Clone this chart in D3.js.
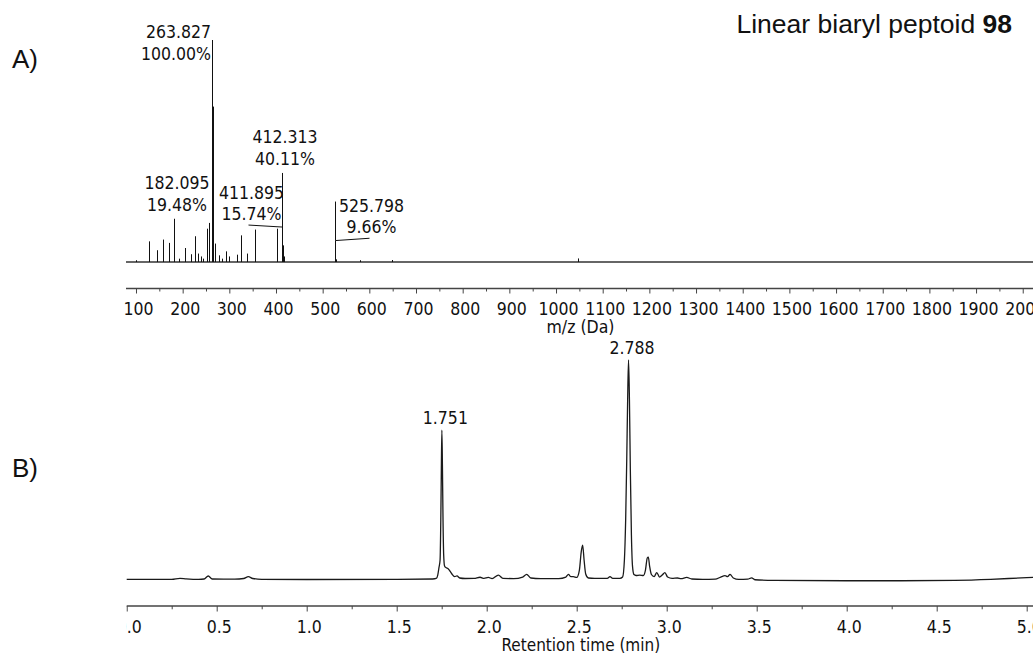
<!DOCTYPE html>
<html>
<head>
<meta charset="utf-8">
<script src="https://cdn.jsdelivr.net/npm/d3@7"></script>
<style>
  html, body { margin: 0; padding: 0; background: #fff; }
  svg { display: block; }
  .lbl { font-family: "DejaVu Sans Condensed", "DejaVu Sans", sans-serif; font-stretch: condensed; fill: #111; }
  .big { font-family: "Liberation Sans", Arial, sans-serif; fill: #111; }
</style>
</head>
<body>
<svg id="chart" width="1033" height="655"></svg>
<script>
// ---------------- DATA ----------------
// Panel A: mass spectrum sticks (m/z, relative intensity %)
const msMz  = [100.0, 128.5, 144.4, 157.2, 170.7, 182.095, 191.4, 205.6, 217.2, 225.8, 232.2, 239.3, 244.3,
               252.8, 255.8, 263.827, 264.8, 269.3, 277.2, 283.6, 292.9, 299.3, 315.8, 324.4, 337.2, 355.0,
               401.5, 411.895, 412.313, 415.6, 417.8, 525.798, 527.8, 580.0, 648.0, 1047.0];
const msPct = [0.8, 9.3, 5.3, 10.1, 8.6, 19.48, 1.5, 6.3, 3.5, 11.6, 3.8, 2.5, 1.5,
               15.0, 17.6, 100.0, 70.0, 8.3, 3.0, 1.5, 4.8, 2.5, 3.3, 12.0, 3.8, 14.6,
               15.0, 15.74, 40.11, 7.5, 2.5, 9.66, 1.2, 0.8, 0.9, 1.6];
// Annotated MS peaks
const msLabelMz  = [263.827, 182.095, 412.313, 411.895, 525.798];
const msLabelPct = [100.00, 19.48, 40.11, 15.74, 9.66];
const msTicks = [100, 200, 300, 400, 500, 600, 700, 800, 900, 1000, 1100, 1200, 1300, 1400, 1500, 1600, 1700, 1800, 1900, 2000];
const msMinorTicks = [150, 250, 350, 450, 550, 650, 750, 850, 950, 1050, 1150, 1250, 1350, 1450, 1550, 1650, 1750, 1850, 1950];

// Panel B: chromatogram (retention time min, signal)
const lcTime = [0.00, 0.25, 0.296, 0.33, 0.40, 0.43, 0.453, 0.475, 0.60, 0.65, 0.676, 0.70, 0.75, 1.00, 1.50, 1.70,
  1.720, 1.728, 1.735, 1.741, 1.745, 1.748, 1.751, 1.754, 1.757, 1.761, 1.766, 1.772, 1.787, 1.805, 1.822, 1.835,
  1.850, 1.880, 1.930, 1.963, 1.985, 2.009, 2.030, 2.065, 2.090, 2.150, 2.200, 2.222, 2.245, 2.300, 2.400, 2.440,
  2.454, 2.468, 2.481, 2.500, 2.515, 2.525, 2.533, 2.541, 2.550, 2.565, 2.600, 2.670, 2.685, 2.700, 2.740, 2.755,
  2.765, 2.772, 2.778, 2.783, 2.788, 2.793, 2.798, 2.804, 2.810, 2.818, 2.830, 2.850, 2.870, 2.882, 2.892, 2.898,
  2.905, 2.915, 2.930, 2.945, 2.960, 2.975, 2.990, 3.005, 3.030, 3.060, 3.080, 3.111, 3.140, 3.200, 3.270, 3.300,
  3.324, 3.338, 3.352, 3.370, 3.400, 3.450, 3.472, 3.490, 3.600, 4.000, 4.300, 4.600, 4.800, 5.000, 5.035];
const lcSignal = [-0.14, -0.14, 0.32, 0.10, -0.14, 0.0, 1.37, 0.0, -0.10, 0.23, 1.05, 0.23, -0.14, -0.23, -0.14, 0.0,
  0.23, 1.8, 5.3, 8.7, 26.9, 49.8, 68.0, 52.1, 29.2, 11.0, 5.9, 5.3, 4.6, 2.5, 1.1, 1.4,
  0.46, 0.23, 0.30, 0.80, 0.30, 0.70, 0.20, 1.8, 0.30, 0.20, 0.9, 2.1, 0.46, 0.20, 0.20, 0.9,
  2.1, 1.05, 1.05, 0.7, 4.1, 12.3, 15.5, 8.7, 2.3, 0.46, 0.30, 0.30, 1.05, 0.30, 0.30, 0.9,
  8.7, 26.9, 54.3, 81.7, 100.0, 81.7, 49.8, 20.1, 5.9, 2.05, 1.6, 1.8, 1.6, 4.1, 9.6, 10.0,
  5.9, 2.05, 1.1, 2.9, 0.9, 1.8, 2.9, 0.9, 0.30, 0.46, 0.20, 0.70, 0.0, -0.20, -0.10, 0.9,
  1.5, 1.1, 2.1, 0.46, -0.20, -0.10, 0.55, -0.35, -0.60, -0.80, -0.80, -0.60, -0.14, 0.60, 0.70];
const lcLabelTime = [1.751, 2.788];
const lcLabelSignal = [68.0, 100.0];
const lcTicks = [0.0, 0.5, 1.0, 1.5, 2.0, 2.5, 3.0, 3.5, 4.0, 4.5, 5.0];
const lcMinorTicks = [0.25, 0.75, 1.25, 1.75, 2.25, 2.75, 3.25, 3.75, 4.25, 4.75];

// ---------------- DRAW ----------------
const svg = d3.select("#chart");
const ink = "#111";
const fs = 17.5;

// Panel labels and title
svg.append("text").attr("class", "big").attr("x", 12).attr("y", 68).attr("font-size", 26).text("A)");
svg.append("text").attr("class", "big").attr("x", 12).attr("y", 477).attr("font-size", 26).text("B)");
const title = svg.append("text").attr("class", "big").attr("x", 1012).attr("y", 33)
  .attr("text-anchor", "end").attr("font-size", 26.5);
title.append("tspan").text("Linear biaryl peptoid ");
title.append("tspan").attr("font-weight", "bold").text("98");

// ---- Panel A ----
const xMs = d3.scaleLinear().domain([78.6, 2022]).range([126, 1033]);
const yMs = d3.scaleLinear().domain([0, 100]).range([262, 40]);
const msAxisY = 288.5;

// baseline (noise floor)
svg.append("line").attr("x1", xMs.range()[0]).attr("x2", xMs.range()[1])
  .attr("y1", yMs(0)).attr("y2", yMs(0)).attr("stroke", "#333").attr("stroke-width", 1.6);

svg.append("g").selectAll("line").data(msMz.map((m, i) => [m, msPct[i]])).join("line")
  .attr("x1", d => Math.round(xMs(d[0])) + 0.5).attr("x2", d => Math.round(xMs(d[0])) + 0.5)
  .attr("y1", yMs(0)).attr("y2", d => yMs(d[1]))
  .attr("stroke", ink).attr("stroke-width", 1);

// annotations
const lh = 21.5;
function twoLine(x, y1, anchor, a, b) {
  const t = svg.append("text").attr("class", "lbl").attr("font-size", fs).attr("text-anchor", anchor);
  t.append("tspan").attr("x", x).attr("y", y1).text(a);
  t.append("tspan").attr("x", x).attr("y", y1 + lh).text(b);
}
msLabelMz.forEach((m, i) => {
  const px = Math.round(xMs(m)) + 0.5, top = yMs(msLabelPct[i]);
  const a = m.toFixed(3), b = msLabelPct[i].toFixed(2) + "%";
  if (i === 0) {
    twoLine(px - 1.5, top - 2, "end", a, b);
  } else if (i === 1 || i === 2) {
    twoLine(px + 2.5, top - 8 - lh, "middle", a, b);
  } else if (i === 3) {
    twoLine(px - 31, top - 7 - lh, "middle", a, b);
    svg.append("line").attr("x1", px - 34).attr("y1", top - 2).attr("x2", px).attr("y2", top)
      .attr("stroke", ink).attr("stroke-width", 1);
  } else {
    twoLine(px + 36, top - 7.3 - lh, "middle", a, b);
    svg.append("line").attr("x1", px).attr("y1", top).attr("x2", px + 34).attr("y2", top - 2.3)
      .attr("stroke", ink).attr("stroke-width", 1);
    svg.append("line").attr("x1", px).attr("y1", top).attr("x2", px).attr("y2", top - 39)
      .attr("stroke", ink).attr("stroke-width", 1);
  }
});

function styleAxis(g) {
  g.select(".domain").remove();
  g.selectAll(".tick line").attr("stroke", "#444");
  g.selectAll(".tick text").attr("class", "lbl").attr("font-size", fs).attr("fill", ink)
    .attr("y", 26.5).attr("dy", 0).attr("dx", 2).attr("font-family", null);
}

// MS axis
svg.append("line").attr("x1", xMs.range()[0]).attr("x2", xMs.range()[1])
  .attr("y1", msAxisY).attr("y2", msAxisY).attr("stroke", "#444").attr("stroke-width", 1.3);
svg.append("g").attr("transform", `translate(0,${msAxisY})`)
  .call(d3.axisBottom(xMs).tickValues(msTicks).tickSize(5).tickSizeOuter(0).tickFormat(d3.format("d")))
  .call(styleAxis);
svg.append("g").attr("transform", `translate(0,${msAxisY})`)
  .call(d3.axisBottom(xMs).tickValues(msMinorTicks).tickSize(3).tickSizeOuter(0).tickFormat(""))
  .call(g => { g.select(".domain").remove(); g.selectAll(".tick line").attr("stroke", "#444"); });
svg.append("text").attr("class", "lbl").attr("font-size", fs).attr("text-anchor", "middle")
  .attr("x", (xMs.range()[0] + xMs.range()[1]) / 2 + 1).attr("y", 333).text("m/z (Da)");

// ---- Panel B ----
const xLc = d3.scaleLinear().domain([0, 5.035]).range([126.7, 1033]);
const yLc = d3.scaleLinear().domain([0, 100]).range([579, 360]);
const lcAxisY = 606;

const line = d3.line().x(d => xLc(d[0])).y(d => yLc(d[1])).curve(d3.curveMonotoneX);
svg.append("path").datum(lcTime.map((t, i) => [t, lcSignal[i]]))
  .attr("d", line).attr("fill", "none").attr("stroke", "#1a1a1a").attr("stroke-width", 1.3)
  .attr("stroke-linejoin", "round");

lcLabelTime.forEach((t, i) => {
  svg.append("text").attr("class", "lbl").attr("font-size", fs).attr("text-anchor", "middle")
    .attr("x", xLc(t) + 3.5).attr("y", yLc(lcLabelSignal[i]) - 6.5).text(t.toFixed(3));
});

svg.append("defs").append("clipPath").attr("id", "lcclip")
  .append("rect").attr("x", 126.2).attr("y", 0).attr("width", 1000).attr("height", 655);
svg.append("line").attr("x1", xLc.range()[0]).attr("x2", xLc.range()[1])
  .attr("y1", lcAxisY).attr("y2", lcAxisY).attr("stroke", "#444").attr("stroke-width", 1.3);
svg.append("g").attr("clip-path", "url(#lcclip)").append("g").attr("transform", `translate(0,${lcAxisY})`)
  .call(d3.axisBottom(xLc).tickValues(lcTicks).tickSize(5.5).tickSizeOuter(0).tickFormat(d3.format(".1f")))
  .call(styleAxis);
svg.append("g").attr("transform", `translate(0,${lcAxisY})`)
  .call(d3.axisBottom(xLc).tickValues(lcMinorTicks).tickSize(3.3).tickSizeOuter(0).tickFormat(""))
  .call(g => { g.select(".domain").remove(); g.selectAll(".tick line").attr("stroke", "#444"); });
svg.append("text").attr("class", "lbl").attr("font-size", 17).attr("text-anchor", "middle")
  .attr("x", (xLc.range()[0] + xLc.range()[1]) / 2 + 1).attr("y", 651).text("Retention time (min)");
</script>
</body>
</html>
